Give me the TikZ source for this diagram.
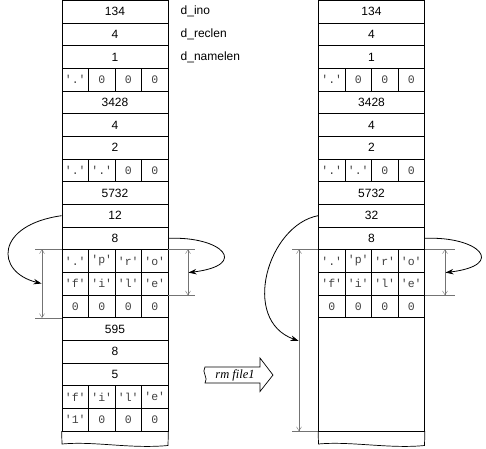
\documentclass[tikz,border=0pt]{standalone}
\usepackage{fontspec}
\setmainfont{Liberation Sans}
\setmonofont{Liberation Mono}
\newfontfamily\timesfont{Liberation Serif}
\usetikzlibrary{positioning,arrows.meta}

\newcommand\rowy[1]{0.5+(#1-0.5)*22.65}

\begin{document}
\begin{tikzpicture}[
  x=1pt, y=-1pt, line width=0.7pt,
  field/.style={draw,minimum width=106pt,minimum height=22.65pt,inner sep=0pt,
    font=\fontsize{12}{14}\selectfont},
  cell/.style={draw,minimum width=26.5pt,minimum height=22.65pt,inner sep=0pt,
    font=\fontsize{11.5}{13}\selectfont\ttfamily,text=black!75},
  tag/.style={inner sep=0pt,font=\fontsize{12}{14}\selectfont},
  dim/.style={draw=black!55,line width=0.4pt},
  dimarrow/.style={dim,{Straight Barb[length=4pt,width=5pt]}-{Straight Barb[length=4pt,width=5pt]}},
  ptr/.style={line width=0.8pt,shorten >=0.5pt,-{Stealth[length=8pt,width=5.5pt]}}
]
\useasboundingbox (0,0) rectangle (486,448);

% directory before rm
\foreach \ri/\val in {1/134,2/4,3/1,5/3428,6/4,7/2,9/5732,10/12,11/8,15/595,16/8,17/5}
  \node[field] (l\ri) at (115,{\rowy{\ri}}) {\val};
\foreach \ri/\cs in {4/{'.',0,0,0},8/{'.','.',0,0},12/{'.','p','r','o'},
    13/{'f','i','l','e'},14/{0,0,0,0},18/{'f','i','l','e'},19/{'1',0,0,0}}
  \foreach \ch [count=\k] in \cs
    \node[cell] (l\ri-\k) at ({62+(\k-0.5)*26.5},{\rowy{\ri}}) {\ch};
\draw (l19-1.south west) -- (62,444) .. controls (95,441) and (130,449) .. (168,445.5)
  -- (l19-4.south east);

\node[tag,right=12pt of l1] (ino) {d\_ino};
\node[tag,right=12pt of l2] (reclen) {d\_reclen};
\node[tag,right=12pt of l3] (namelen) {d\_namelen};

% record lengths, left
\coordinate (ltick) at (35,0);
\coordinate (ldim) at (42,0);
\draw[dim] (l12-1.north west) -- (l12-1.north west -| ltick);
\draw[dim] (l14-1.south west) -- (l14-1.south west -| ltick);
\draw[dimarrow] (l12-1.north west -| ldim) -- (l14-1.south west -| ldim);
\coordinate (rtick) at (195,0);
\coordinate (rdim) at (188,0);
\draw[dim] (l12-4.north east) -- (l12-4.north east -| rtick);
\draw[dim] (l13-4.south east) -- (l13-4.south east -| rtick);
\draw[dimarrow] (l12-4.north east -| rdim) -- (l13-4.south east -| rdim);
\draw[ptr] (l10.west) .. controls (-5,225) and (-5,272) .. (l13-1.west -| ldim);
\draw[ptr] (l11.east) .. controls (222,236) and (250,265) .. (l12-4.south east -| rdim);

% the command
\node[inner sep=0pt,font=\timesfont\itshape\fontsize{12.5}{14}\selectfont] (rm) at (235,375) {rm file1};
\draw (205,367) -- (260,367) -- (260,358) -- (273,375) -- (260,391.5) -- (260,383)
  -- (205,383) .. controls (209,378) and (201,372) .. cycle;

% directory after rm
\foreach \ri/\val in {1/134,2/4,3/1,5/3428,6/4,7/2,9/5732,10/32,11/8}
  \node[field] (r\ri) at (371.5,{\rowy{\ri}}) {\val};
\foreach \ri/\cs in {4/{'.',0,0,0},8/{'.','.',0,0},12/{'.','p','r','o'},
    13/{'f','i','l','e'},14/{0,0,0,0}}
  \foreach \ch [count=\k] in \cs
    \node[cell] (r\ri-\k) at ({318.5+(\k-0.5)*26.5},{\rowy{\ri}}) {\ch};
\node[field,minimum height=113.25pt] (rfree) at (371.5,{\rowy{17}}) {};
\draw (rfree.south west) -- (318.5,444) .. controls (350,441) and (390,449) .. (424.5,445.5)
  -- (rfree.south east);

% record lengths, right
\coordinate (rltick) at (292,0);
\coordinate (rldim) at (299,0);
\coordinate (rlmid) at (299,341);
\draw[dim] (r12-1.north west) -- (r12-1.north west -| rltick);
\draw[dim] (rfree.south west) -- (rfree.south west -| rltick);
\draw[dimarrow] (r12-1.north west -| rldim) -- (rfree.south west -| rldim);
\coordinate (rrtick) at (455,0);
\coordinate (rrdim) at (445,0);
\draw[dim] (r12-4.north east) -- (r12-4.north east -| rrtick);
\draw[dim] (r13-4.south east) -- (r13-4.south east -| rrtick);
\draw[dimarrow] (r12-4.north east -| rrdim) -- (r13-4.south east -| rrdim);
\draw[ptr] (r10.west) .. controls (268,225) and (240,320) .. (rlmid);
\draw[ptr] (r11.east) .. controls (479,236) and (507,265) .. (r12-4.south east -| rrdim);
\end{tikzpicture}
\end{document}
